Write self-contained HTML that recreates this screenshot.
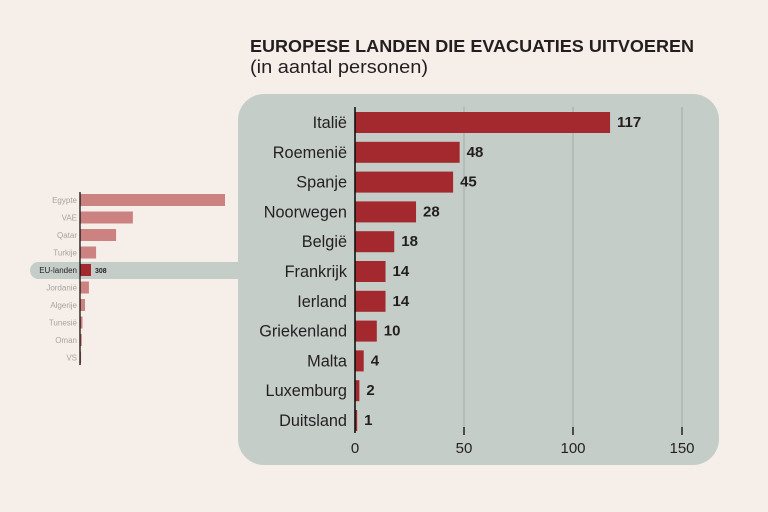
<!DOCTYPE html>
<html><head><meta charset="utf-8">
<style>
html,body{margin:0;padding:0;background:#f5eee9;}
svg{display:block;font-family:"Liberation Sans",sans-serif;}
</style></head>
<body>
<svg id="c" width="768" height="512" viewBox="0 0 768 512">
  <rect x="0" y="0" width="768" height="512" fill="#f5eee9"/>
  <rect x="30" y="262" width="230" height="17" rx="8.5" fill="#c5cdc9"/>
  <rect x="238" y="94" width="481" height="371" rx="26" fill="#c5cdc9"/>
  <text x="250" y="52" font-size="17.5" font-weight="bold" fill="#231f20" textLength="444" lengthAdjust="spacingAndGlyphs">EUROPESE LANDEN DIE EVACUATIES UITVOEREN</text>
  <text x="250" y="73" font-size="18" fill="#231f20" textLength="178" lengthAdjust="spacingAndGlyphs">(in aantal personen)</text>
  <g id="main"></g>
  <g id="small"></g>
</svg>
<script>
const mainCats = ["Italië","Roemenië","Spanje","Noorwegen","België","Frankrijk","Ierland","Griekenland","Malta","Luxemburg","Duitsland"];
const mainVals = [117,48,45,28,18,14,14,10,4,2,1];
const mainTicks = [0,50,100,150];
const smallCats = ["Egypte","VAE","Qatar","Turkije","EU-landen","Jordanië","Algerije","Tunesië","Oman","VS"];
const smallVals = [4060,1480,1010,450,308,250,140,70,50,30];

const NS="http://www.w3.org/2000/svg";
function mk(tag,attrs,parent,text){const e=document.createElementNS(NS,tag);for(const k in attrs)e.setAttribute(k,attrs[k]);if(text!==undefined)e.textContent=text;parent.appendChild(e);return e;}

const main=document.getElementById('main');
const x0=355, pxPerUnit=(682-355)/150;
const xM=v=>x0+v*pxPerUnit;
const yTop=112, step=29.8, bh=21;
const yM=i=>yTop+i*step;

mainTicks.forEach(t=>{
  if(t>0){const g=mk('line',{x1:xM(t),x2:xM(t),y1:107,y2:430,stroke:'#a4aaa7','stroke-width':1},main);
  
  
  const tk=mk('line',{x1:xM(t),x2:xM(t),y1:427,y2:435,stroke:'#231f20','stroke-width':1.5},main);
  
  }
  const l=mk('text',{x:xM(t),y:453,'font-size':15,'text-anchor':'middle',fill:'#231f20'},main,String(t));
  
  
});
mainCats.forEach((c,i)=>{
  const r=mk('rect',{x:x0,y:yM(i),width:Math.max(xM(mainVals[i])-x0,1.5),height:bh,fill:'#a4292e'},main);
  
  
  const l=mk('text',{x:347,y:yM(i)+16,'font-size':16.3,'text-anchor':'end',fill:'#231f20'},main,c);
  
  
  const v=mk('text',{x:xM(mainVals[i])+7,y:yM(i)+15,'font-size':15,'font-weight':'bold',fill:'#231f20'},main,String(mainVals[i]));
  
  
});
const ax=mk('line',{x1:x0,x2:x0,y1:107,y2:433,stroke:'#111','stroke-width':1.6},main);



const small=document.getElementById('small');
const sx0=80, sPx=11/308;
const xS=v=>sx0+v*sPx;
const yS=i=>194+i*17.5;
smallCats.forEach((c,i)=>{
  const eu=c==="EU-landen";
  const r=mk('rect',{x:sx0,y:yS(i),width:Math.max(xS(smallVals[i])-sx0,1),height:12,fill:eu?'#a4292e':'#cd8282'},small);
  
  
  const l=mk('text',{x:77,y:yS(i)+9,'font-size':8,'text-anchor':'end',fill:eu?'#231f20':'#a9a3a0'},small,c);
  
  
  if(eu){const v=mk('text',{x:xS(smallVals[i])+4,y:yS(i)+9,'font-size':7,'font-weight':'bold',fill:'#231f20'},small,String(smallVals[i]));
  
  }
});
const sax=mk('line',{x1:sx0,x2:sx0,y1:192,y2:365,stroke:'#111','stroke-width':1.3},small);


</script>
</body></html>
